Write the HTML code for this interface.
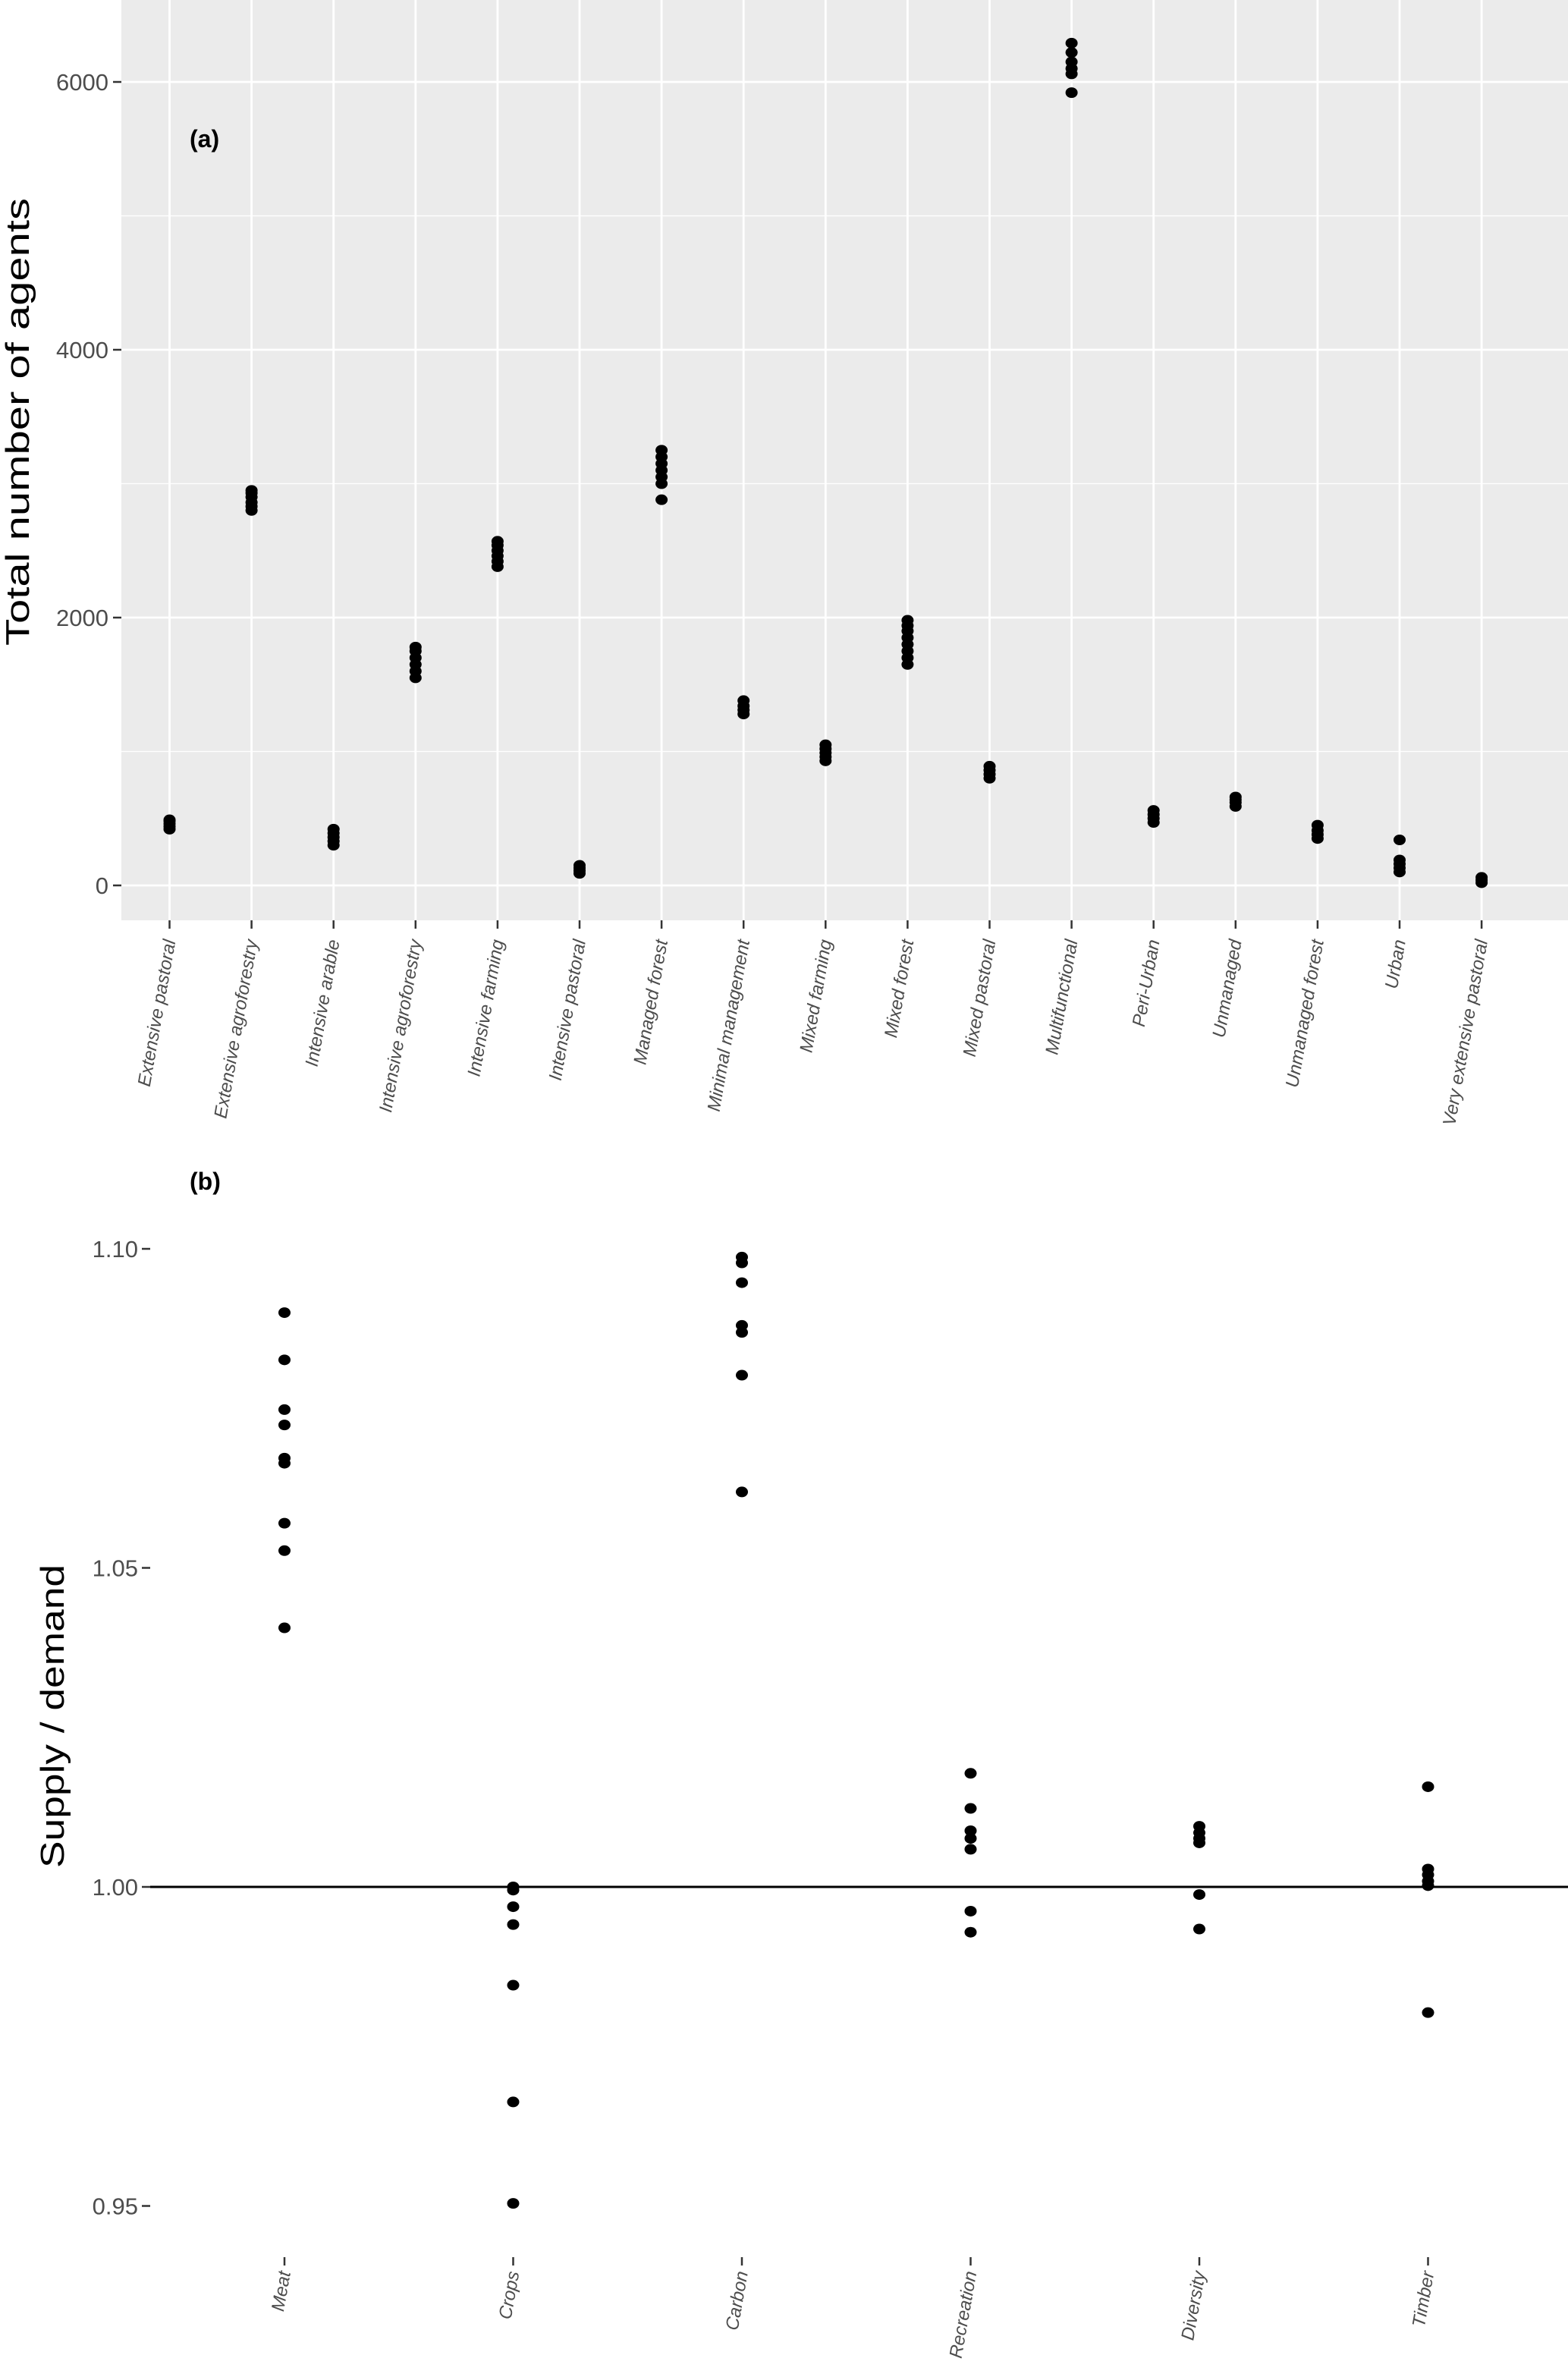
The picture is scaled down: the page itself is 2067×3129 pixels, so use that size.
<!DOCTYPE html>
<html><head><meta charset="utf-8"><style>
html,body{margin:0;padding:0;background:#fff;}
svg{display:block;font-family:"Liberation Sans",Arial,sans-serif;}
</style></head><body>
<svg id="chart" width="2067" height="3129" xmlns="http://www.w3.org/2000/svg">
<g id="pa"></g>
<g id="pb"></g>
</svg>
<script>
const catsA = ["Extensive pastoral","Extensive agroforestry","Intensive arable","Intensive agroforestry","Intensive farming","Intensive pastoral","Managed forest","Minimal management","Mixed farming","Mixed forest","Mixed pastoral","Multifunctional","Peri-Urban","Unmanaged","Unmanaged forest","Urban","Very extensive pastoral"];
const valsA = [
 [420,440,460,480,490],
 [2800,2830,2860,2900,2930,2950],
 [300,330,360,390,420],
 [1550,1600,1650,1700,1750,1780],
 [2380,2420,2460,2500,2540,2570],
 [90,110,130,150],
 [2880,3000,3050,3100,3150,3200,3250],
 [1280,1310,1340,1380],
 [930,960,990,1020,1050],
 [1650,1700,1750,1800,1850,1900,1940,1980],
 [800,830,860,890],
 [5920,6060,6100,6150,6220,6290],
 [470,500,530,560],
 [590,620,640,660],
 [350,380,410,450],
 [100,130,160,190,340],
 [20,40,60]
];
const ticksA = [0,2000,4000,6000];
const minorA = [1000,3000,5000];
const catsB = ["Meat","Crops","Carbon","Recreation","Diversity","Timber"];
const valsB = [
 [1.090,1.0826,1.0748,1.0724,1.0672,1.0664,1.057,1.0527,1.0406],
 [1.000,0.9995,0.9969,0.9941,0.9846,0.9663,0.9504],
 [1.0987,1.0978,1.0947,1.088,1.0869,1.0802,1.0619],
 [1.0178,1.0123,1.0088,1.0076,1.0059,0.9962,0.9929],
 [1.0095,1.0085,1.0076,1.0069,0.9988,0.9934],
 [1.0157,1.0028,1.0019,1.0009,1.0002,0.9803]
];
const ticksB = ["0.95","1.00","1.05","1.10"];
const NS="http://www.w3.org/2000/svg";
function mk(p,t,a,txt){const e=document.createElementNS(NS,t);for(const k in a)e.setAttribute(k,a[k]);if(txt!==undefined)e.textContent=txt;p.appendChild(e);return e;}
// Panel A
const pa=document.getElementById('pa');
const xA=i=>223.5+i*108.1;
const yA=v=>1167-v*0.1765;
let bg=mk(pa,'rect',{x:160,y:0,width:1907,height:1213,fill:'#ebebeb'});


minorA.forEach(v=>{const l=mk(pa,'line',{x1:160,x2:2067,y1:yA(v),y2:yA(v),stroke:'#fff','stroke-width':1.3});

});
ticksA.forEach(v=>{const l=mk(pa,'line',{x1:160,x2:2067,y1:yA(v),y2:yA(v),stroke:'#fff','stroke-width':2.8});


const t=mk(pa,'line',{x1:149,x2:160,y1:yA(v),y2:yA(v),stroke:'#333','stroke-width':2.5});


const tx=mk(pa,'text',{x:143,y:yA(v)+11,'text-anchor':'end','font-size':31,fill:'#4d4d4d'},String(v));

});
catsA.forEach((c,i)=>{const x=xA(i);
const g=mk(pa,'line',{x1:x,x2:x,y1:0,y2:1213,stroke:'#fff','stroke-width':2.8});


const t=mk(pa,'line',{x1:x,x2:x,y1:1213,y2:1224,stroke:'#333','stroke-width':2.5});


const tx=mk(pa,'text',{transform:`translate(${x+8},1240) rotate(-80)`,'text-anchor':'end','font-size':24,'font-style':'italic',fill:'#4d4d4d'},c);


valsA[i].forEach(v=>{const p=mk(pa,'ellipse',{cx:x,cy:yA(v),rx:8,ry:7,fill:'#000'});

});});
let ta=mk(pa,'text',{x:250,y:194,'font-size':32,'font-weight':'bold',fill:'#000'},'(a)');


let yta=mk(pa,'text',{transform:'translate(38,556) rotate(-90)','text-anchor':'middle','font-size':44,textLength:590,lengthAdjust:'spacingAndGlyphs',fill:'#000'},'Total number of agents');


// Panel B
const pb=document.getElementById('pb');
const xB=i=>375+i*301.5;
const yB=v=>2487-(v-1)*8410;
ticksB.forEach(s=>{const v=parseFloat(s);
const t=mk(pb,'line',{x1:187,x2:198,y1:yB(v),y2:yB(v),stroke:'#333','stroke-width':2.5});


const tx=mk(pb,'text',{x:182,y:yB(v)+11,'text-anchor':'end','font-size':31,fill:'#4d4d4d'},s);

});
let ref=mk(pb,'line',{x1:198,x2:2067,y1:yB(1),y2:yB(1),stroke:'#000','stroke-width':3});


catsB.forEach((c,i)=>{const x=xB(i);
const t=mk(pb,'line',{x1:x,x2:x,y1:2975,y2:2986,stroke:'#333','stroke-width':2.5});


const tx=mk(pb,'text',{transform:`translate(${x+8},2995) rotate(-80)`,'text-anchor':'end','font-size':24,'font-style':'italic',fill:'#4d4d4d'},c);


valsB[i].forEach(v=>{const p=mk(pb,'ellipse',{cx:x,cy:yB(v),rx:8,ry:7,fill:'#000'});

});});
let tb=mk(pb,'text',{x:250,y:1568,'font-size':32,'font-weight':'bold',fill:'#000'},'(b)');


let ytb=mk(pb,'text',{transform:'translate(84,2262) rotate(-90)','text-anchor':'middle','font-size':44,textLength:400,lengthAdjust:'spacingAndGlyphs',fill:'#000'},'Supply / demand');


</script>
</body></html>
